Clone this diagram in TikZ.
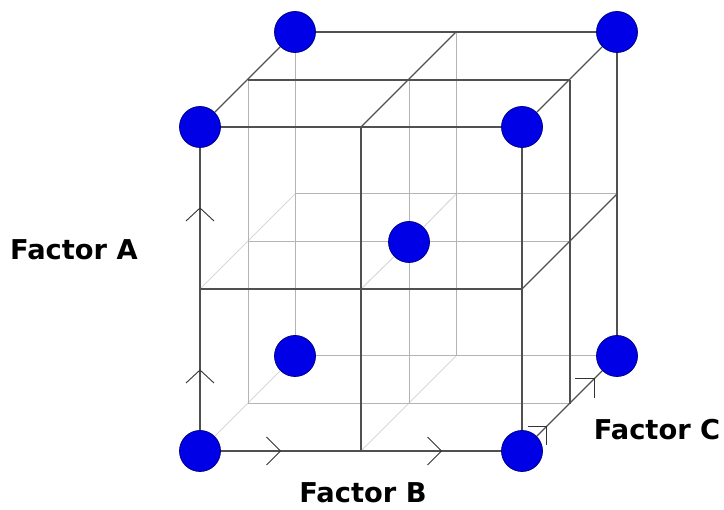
\documentclass[tikz,border=0pt]{standalone}
\usepackage{fontspec}
\setmainfont{DejaVu Sans}
\usetikzlibrary{calc}
\definecolor{dotblue}{HTML}{0000E6}
\definecolor{dotedge}{HTML}{00008C}
\definecolor{edgedark}{HTML}{505050}
\definecolor{edgegrey}{HTML}{B4B4B4}
\definecolor{edgepale}{HTML}{D8D8D8}

\begin{document}
\begin{tikzpicture}[
    x=1pt, y=-1pt,
    dot/.style={circle, draw=dotedge, fill=dotblue, minimum size=41pt, inner sep=0pt, line width=0.8pt},
    darkedge/.style={draw=edgedark, line width=1.2pt},
    greyedge/.style={draw=edgegrey, line width=1pt},
    paleedge/.style={draw=edgepale, line width=1pt},
    chevron/.style={draw=black!80, line width=0.9pt},
    factor/.style={font=\fontsize{27.3}{30}\selectfont\bfseries, text=black, inner sep=0pt}
  ]
    \useasboundingbox (0,0) rectangle (724,510);

    % grid points: i along B, j down A, k into the page along C
    \foreach \i in {0,1,2}
      \foreach \j in {0,1,2}
        \foreach \k in {0,1,2}
          \coordinate (g\i\j\k) at ({200+161*\i+ceil(47.5*\k)}, {127+162*\j-floor(47.5*\k)});

    \foreach \p in {000,200,020,220,002,202,022,222,111}
      \node[dot] (g\p) at (g\p) {};

    \node[factor] (factora) at (74,250) {Factor A};
    \node[factor] (factorb) at (363,493) {Factor B};
    \node[factor] (factorc) at (657,430) {Factor C};

    % hidden lines first
    \foreach \a/\b in {g010/g012, g110/g111, g111/g112, g020/g022, g120/g122}
      \draw[paleedge] (\a) -- (\b);
    \foreach \a/\b in {g002/g022, g102/g122, g001/g021, g101/g111, g111/g121,
                       g012/g212, g011/g111, g111/g211, g022/g222, g021/g221}
      \draw[greyedge] (\a) -- (\b);

    % front, top and right faces
    \foreach \a/\b in {g000/g200, g010/g210, g020/g220, g000/g020, g100/g120, g200/g220,
                       g002/g202, g001/g201, g000/g002, g100/g102, g200/g202,
                       g202/g222, g201/g221, g220/g222, g210/g212}
      \draw[darkedge] (\a) -- (\b);

    % direction marks
    \coordinate (upa) at ($(g020)!0.25!(g000)$);
    \coordinate (upb) at ($(g020)!0.75!(g000)$);
    \coordinate (rta) at ($(g020)!0.25!(g220)$);
    \coordinate (rtb) at ($(g020)!0.75!(g220)$);
    \coordinate (dga) at ($(g220)!0.26!(g222)$);
    \coordinate (dgb) at ($(g220)!0.76!(g222)$);
    \foreach \t in {upa,upb}
      \draw[chevron] ($(\t)+(-14,13)$) -- (\t) -- ($(\t)+(14,13)$);
    \foreach \t in {rta,rtb}
      \draw[chevron] ($(\t)+(-14,-14)$) -- (\t) -- ($(\t)+(-14,14)$);
    \foreach \t in {dga,dgb}
      \draw[chevron] ($(\t)+(-19,0)$) -- (\t) -- ($(\t)+(0,19)$);
  \end{tikzpicture}
\end{document}
